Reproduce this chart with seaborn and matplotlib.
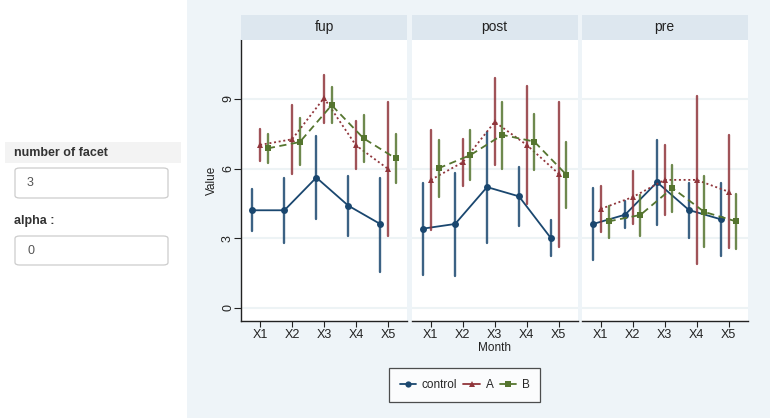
import numpy as np
import pandas as pd
import matplotlib
matplotlib.use("Agg")
import matplotlib.pyplot as plt
from matplotlib.patches import Rectangle, FancyBboxPatch
from matplotlib.lines import Line2D
import seaborn as sns

# data
months = ["X1", "X2", "X3", "X4", "X5"]
groups = ["control", "A", "B"]
phases = ["fup", "post", "pre"]

fup_control = [4.20, 4.20, 5.61, 4.40, 3.61]
fup_control_lo = [3.29, 2.80, 3.81, 3.08, 1.55]
fup_control_hi = [5.10, 5.58, 7.40, 5.69, 5.61]
fup_A = [7.02, 7.26, 9.04, 7.00, 5.99]
fup_A_lo = [6.31, 5.78, 7.98, 5.97, 3.11]
fup_A_hi = [7.71, 8.74, 10.05, 8.05, 8.88]
fup_B = [6.87, 7.14, 8.73, 7.30, 6.44]
fup_B_lo = [6.22, 6.15, 7.95, 6.30, 5.36]
fup_B_hi = [7.49, 8.18, 9.50, 8.29, 7.50]

post_control = [3.41, 3.61, 5.20, 4.80, 3.00]
post_control_lo = [1.41, 1.37, 2.79, 3.54, 2.21]
post_control_hi = [5.38, 5.82, 7.58, 6.05, 3.77]
post_A = [5.51, 6.27, 8.01, 7.02, 5.78]
post_A_lo = [3.34, 5.26, 6.14, 4.47, 2.63]
post_A_hi = [7.68, 7.26, 9.89, 9.56, 8.87]
post_B = [6.01, 6.58, 7.45, 7.16, 5.74]
post_B_lo = [4.79, 5.49, 6.00, 5.95, 4.30]
post_B_hi = [7.23, 7.65, 8.87, 8.35, 7.14]

pre_control = [3.61, 4.01, 5.41, 4.21, 3.81]
pre_control_lo = [2.04, 3.42, 3.57, 3.02, 2.24]
pre_control_hi = [5.15, 4.59, 7.23, 5.38, 5.38]
pre_A = [4.26, 4.77, 5.51, 5.51, 5.00]
pre_A_lo = [3.25, 3.61, 4.00, 1.87, 2.57]
pre_A_hi = [5.25, 5.88, 7.02, 9.13, 7.45]
pre_B = [3.72, 4.00, 5.16, 4.13, 3.72]
pre_B_lo = [3.00, 3.11, 4.14, 2.60, 2.52]
pre_B_hi = [4.37, 4.87, 6.15, 5.68, 4.90]

series = {
    ("fup", "control"): (fup_control, fup_control_lo, fup_control_hi),
    ("fup", "A"): (fup_A, fup_A_lo, fup_A_hi),
    ("fup", "B"): (fup_B, fup_B_lo, fup_B_hi),
    ("post", "control"): (post_control, post_control_lo, post_control_hi),
    ("post", "A"): (post_A, post_A_lo, post_A_hi),
    ("post", "B"): (post_B, post_B_lo, post_B_hi),
    ("pre", "control"): (pre_control, pre_control_lo, pre_control_hi),
    ("pre", "A"): (pre_A, pre_A_lo, pre_A_hi),
    ("pre", "B"): (pre_B, pre_B_lo, pre_B_hi),
}

# long table: lo / value / hi rows per point -> median gives value, min/max the bar
rows = []
for (ph, g), (v, lo, hi) in series.items():
    for i, m in enumerate(months):
        for y in (lo[i], v[i], hi[i]):
            rows.append((ph, g, m, y))
df = pd.DataFrame(rows, columns=["phase", "group", "Month", "Value"])

colors = {"control": "#1a476f", "A": "#90353b", "B": "#55752f"}
markers = ["o", "^", "s"]
lstyles = ["-", (0, (1.1, 1.5)), (0, (4, 2.5))]

sns.set_style("white")
plt.rcParams["font.family"] = ["Liberation Sans", "DejaVu Sans"]

W, H = 770, 418
fig = plt.figure(figsize=(W / 100, H / 100), dpi=100)
fig.patch.set_facecolor("white")

# plot area background
fig.patches.append(Rectangle((187 / W, 0), 1 - 187 / W, 1, transform=fig.transFigure,
                             facecolor="#eef4f8", edgecolor="none", zorder=-2))

# sidebar
fig.patches.append(Rectangle((5 / W, 1 - 163 / H), 176 / W, 21 / H, transform=fig.transFigure,
                             facecolor="#f3f3f3", edgecolor="none", zorder=-2))
fig.text(14 / W, 1 - 153 / H, "number of facet", fontsize=9, fontweight="bold",
         color="#333333", va="center")
for y0, y1, txt in [(168, 198, "3"), (236, 265, "0")]:
    fig.patches.append(FancyBboxPatch((15 / W, 1 - y1 / H), 153 / W, (y1 - y0) / H,
                                      boxstyle="round,pad=0,rounding_size=0.006",
                                      transform=fig.transFigure, facecolor="white",
                                      edgecolor="#cccccc", linewidth=0.9, zorder=-1))
    fig.text(27 / W, 1 - (y0 + y1) / 2 / H, txt, fontsize=9, color="#555555", va="center")
fig.text(14 / W, 1 - 221 / H, "alpha :", fontsize=9, fontweight="bold",
         color="#333333", va="center")

lefts = [241, 411.7, 581.7]
pw = 166
top, bot = 40, 320.7
axes = []
for k, ph in enumerate(phases):
    ax = fig.add_axes([lefts[k] / W, 1 - bot / H, pw / W, (bot - top) / H])
    ax.set_facecolor("white")
    sns.pointplot(data=df[df.phase == ph], x="Month", y="Value", hue="group",
                  order=months, hue_order=groups, palette=colors,
                  estimator="median", errorbar=lambda v: (v.min(), v.max()),
                  dodge=0.48, markers=markers, linestyles=lstyles,
                  linewidth=1.3, markersize=5, markeredgewidth=0,
                  err_kws={"linewidth": 1.7, "alpha": 0.85}, ax=ax, legend=False)
    ax.set_ylim(-0.56, 11.54)
    ax.set_xlim(-0.6, 4.6)
    ax.set_yticks([0, 3, 6, 9])
    ax.yaxis.grid(True, color="#edf3f5", linewidth=1.5)
    ax.set_axisbelow(True)
    for s in ["top", "right"]:
        ax.spines[s].set_visible(False)
    ax.spines["bottom"].set_color("#222222")
    ax.spines["bottom"].set_linewidth(1.0)
    ax.tick_params(axis="x", direction="out", length=4, width=0.8, color="#222222",
                   labelsize=9, labelcolor="#222222", bottom=True, pad=2)
    if k == 0:
        ax.spines["left"].set_color("#222222")
        ax.spines["left"].set_linewidth(1.0)
        ax.tick_params(axis="y", direction="out", length=5, width=0.8, color="#222222",
                       labelsize=9, labelcolor="#222222", left=True, pad=0)
        for t in ax.get_yticklabels():
            t.set_rotation(90)
            t.set_va("center")
        ax.set_ylabel("Value", fontsize=8.5, color="#222222", labelpad=3)
    else:
        ax.spines["left"].set_visible(False)
        ax.tick_params(axis="y", left=False, labelleft=False)
        ax.set_ylabel("")
    ax.set_xlabel("Month" if k == 1 else "", fontsize=8.5, color="#222222", labelpad=1)

    # facet strip
    sax = fig.add_axes([lefts[k] / W, 1 - top / H, pw / W, 25 / H])
    sax.set_facecolor("#dde7ef")
    sax.set_xticks([])
    sax.set_yticks([])
    for s in sax.spines.values():
        s.set_visible(False)
    sax.text(0.5, 0.5, ph, fontsize=10, color="#222222", ha="center", va="center",
             transform=sax.transAxes)
    axes.append(ax)

handles = [Line2D([0], [0], color=colors[g], marker=m, markersize=4.5, markeredgewidth=0,
                  linewidth=1.3) for g, m in zip(groups, markers)]
leg = fig.legend(handles, groups, loc="center", ncol=3,
                 bbox_to_anchor=(464.7 / W, 1 - 385 / H), frameon=True, fancybox=False,
                 fontsize=8.5, handlelength=1.4, handletextpad=0.5, columnspacing=0.5,
                 borderpad=0.9)
leg.get_frame().set_edgecolor("#222222")
leg.get_frame().set_linewidth(0.9)

fig.savefig("out.png", dpi=100)
